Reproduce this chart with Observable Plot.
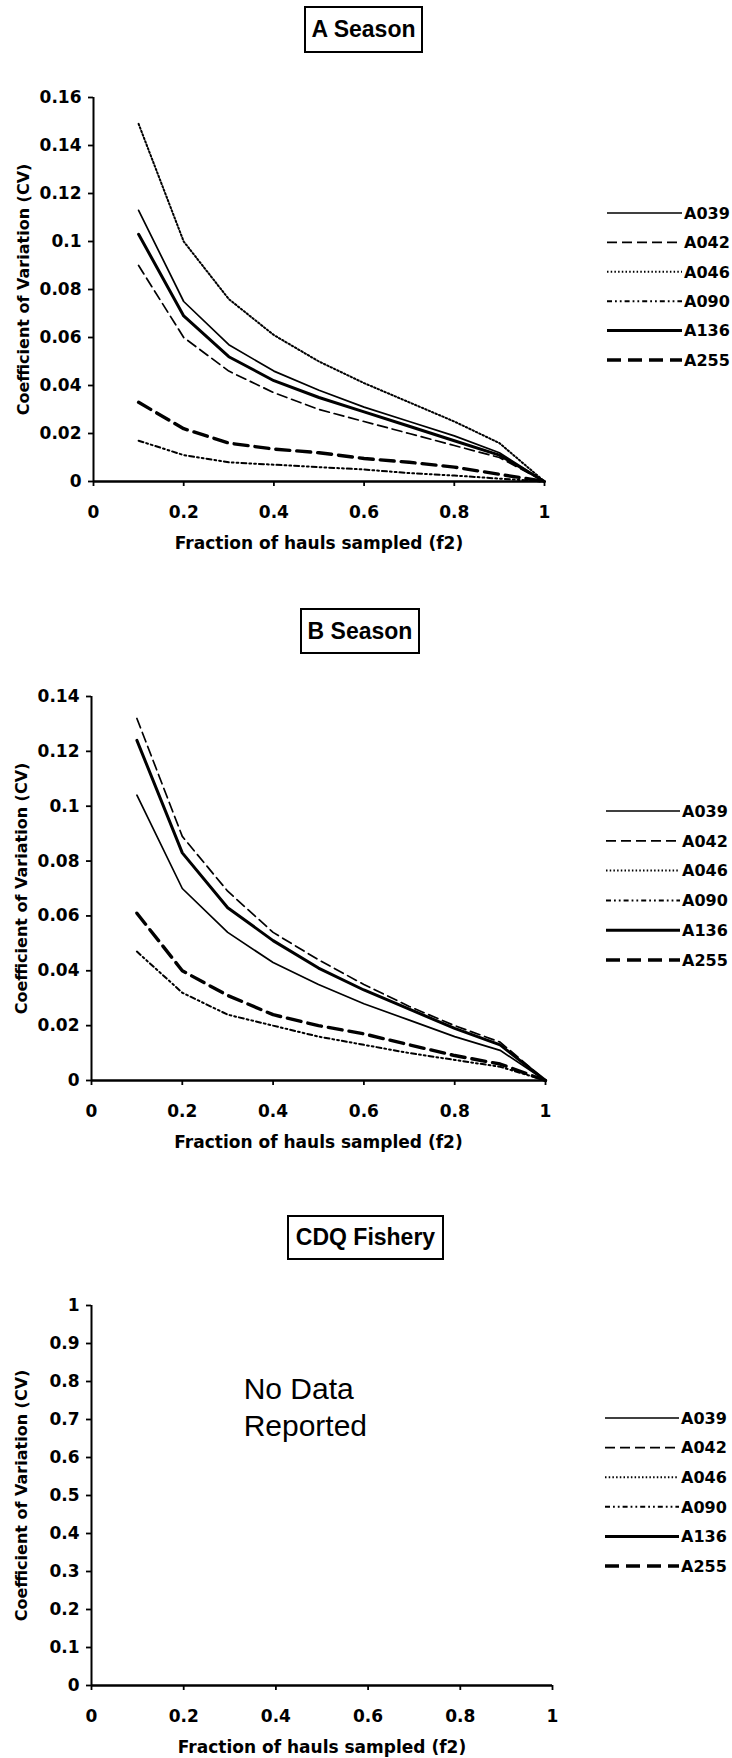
<!DOCTYPE html>
<html><head><meta charset="utf-8">
<script src="https://cdn.jsdelivr.net/npm/d3@7"></script>
<script src="https://cdn.jsdelivr.net/npm/@observablehq/plot@0.6"></script>
<style>
body{margin:0;background:#fff;}
#page{position:relative;width:732px;height:1758px;overflow:hidden;background:#fff;}
.title{position:absolute;border:2px solid #000;box-sizing:border-box;font:bold 23px "Liberation Sans",Arial,sans-serif;display:flex;align-items:center;justify-content:center;color:#000;}
.plot{position:absolute;left:0;}
.legend{position:absolute;left:0;overflow:visible;}
</style></head><body><div id="page"></div>
<script>
// ---- data ----
const fractions = [0.1, 0.2, 0.3, 0.4, 0.5, 0.6, 0.7, 0.8, 0.9, 1.0];
const seriesNames = ["A039", "A042", "A046", "A090", "A136", "A255"];

// A Season
const aA039 = [0.113, 0.075, 0.057, 0.046, 0.038, 0.031, 0.025, 0.019, 0.012, 0];
const aA042 = [0.090, 0.060, 0.046, 0.037, 0.030, 0.025, 0.020, 0.015, 0.010, 0];
const aA046 = [0.149, 0.100, 0.076, 0.061, 0.050, 0.041, 0.033, 0.025, 0.016, 0];
const aA090 = [0.017, 0.011, 0.008, 0.007, 0.006, 0.005, 0.0035, 0.0025, 0.0012, 0];
const aA136 = [0.103, 0.069, 0.052, 0.042, 0.035, 0.029, 0.023, 0.017, 0.011, 0];
const aA255 = [0.033, 0.022, 0.016, 0.0135, 0.012, 0.0096, 0.008, 0.006, 0.003, 0];

// B Season (A046 not plotted)
const bA039 = [0.104, 0.070, 0.054, 0.043, 0.035, 0.028, 0.022, 0.016, 0.011, 0];
const bA042 = [0.132, 0.089, 0.069, 0.054, 0.044, 0.035, 0.027, 0.020, 0.014, 0];
const bA090 = [0.047, 0.032, 0.024, 0.020, 0.016, 0.013, 0.010, 0.0075, 0.005, 0];
const bA136 = [0.124, 0.083, 0.063, 0.051, 0.041, 0.033, 0.026, 0.019, 0.013, 0];
const bA255 = [0.061, 0.040, 0.031, 0.024, 0.020, 0.017, 0.013, 0.0091, 0.006, 0];

// CDQ Fishery: no data reported
const noteText = "No Data\nReported";
const notePos = {f: 0.33, cv: 0.737};

// tick labels
const xTicks = [0, 0.2, 0.4, 0.6, 0.8, 1];
const yTicksA = [0, 0.02, 0.04, 0.06, 0.08, 0.1, 0.12, 0.14, 0.16];
const yTicksB = [0, 0.02, 0.04, 0.06, 0.08, 0.1, 0.12, 0.14];
const yTicksC = [0, 0.1, 0.2, 0.3, 0.4, 0.5, 0.6, 0.7, 0.8, 0.9, 1];

const titles = ["A Season", "B Season", "CDQ Fishery"];
const xLabel = "Fraction of hauls sampled (f2)";
const yLabel = "Coefficient of Variation (CV)";

// ---- styles ----
const lineStyles = {
  A039: {strokeWidth: 1.7},
  A042: {strokeWidth: 1.7, strokeDasharray: "10,5"},
  A046: {strokeWidth: 2, strokeDasharray: "1.5,2.2"},
  A090: {strokeWidth: 2, strokeDasharray: "5,3,1.8,3,1.8,3"},
  A136: {strokeWidth: 3},
  A255: {strokeWidth: 3.4, strokeDasharray: "14,7"}
};

const fmt = d3.format("~g");
const page = document.getElementById("page");

function rows(values) {
  return fractions.map((f, i) => ({f, cv: values[i]}));
}

function panel(cfg) {
  const marks = [
    Plot.ruleX([0], {stroke: "#000", strokeWidth: 2}),
    Plot.ruleY([0], {stroke: "#000", strokeWidth: 2.5}),
    Plot.axisX({ticks: xTicks, tickFormat: fmt, tickSize: 5, tickPadding: 19, strokeWidth: 1.8, label: null}),
    Plot.axisY({ticks: cfg.yTicks, tickFormat: fmt, tickSize: 5, tickPadding: 7, strokeWidth: 1.8, label: null}),
    Plot.text([xLabel], {text: d => d, frameAnchor: "bottom", lineAnchor: "middle", dy: 62, fontSize: 17}),
    Plot.text([yLabel], {text: d => d, frameAnchor: "left", textAnchor: "middle", lineAnchor: "middle", dx: -70, rotate: -90, fontSize: 16})
  ];
  for (const [name, vals] of cfg.series) {
    marks.push(Plot.line(rows(vals), {x: "f", y: "cv", stroke: "#000", ...lineStyles[name]}));
  }
  if (cfg.note) {
    marks.push(Plot.text([notePos], {x: "f", y: "cv", text: () => noteText, textAnchor: "start",
      lineHeight: 1.25, fontSize: 30, fontWeight: "normal", fontFamily: "Liberation Sans, Arial, sans-serif"}));
  }
  const svg = Plot.plot({
    width: 732, height: cfg.height,
    marginTop: cfg.mt, marginBottom: cfg.height - cfg.mt - cfg.frameH,
    marginLeft: cfg.ml, marginRight: 732 - cfg.xr,
    x: {domain: [0, 1]},
    y: {domain: cfg.yDomain},
    style: {fontFamily: "DejaVu Sans, sans-serif", fontSize: "17px", fontWeight: "bold", color: "#000", background: "transparent", overflow: "visible"},
    marks
  });
  svg.classList.add("plot");
  svg.style.top = cfg.top + "px";
  page.appendChild(svg);

  // title box
  const t = document.createElement("div");
  t.className = "title";
  t.textContent = cfg.title;
  Object.assign(t.style, {left: cfg.box[0] + "px", top: cfg.box[1] + "px", width: cfg.box[2] + "px", height: cfg.box[3] + "px"});
  page.appendChild(t);

  // legend
  const lg = d3.create("svg").attr("class", "legend").attr("width", 732).attr("height", 220)
    .style("top", cfg.leg.y0 - 20 + "px");
  seriesNames.forEach((name, i) => {
    const y = 20 + i * cfg.leg.step;
    const st = lineStyles[name];
    lg.append("line").attr("x1", cfg.leg.x1).attr("x2", cfg.leg.x2).attr("y1", y).attr("y2", y)
      .attr("stroke", "#000").attr("stroke-width", st.strokeWidth)
      .attr("stroke-dasharray", st.strokeDasharray || null);
    lg.append("text").attr("x", cfg.leg.x2 + 2).attr("y", y).attr("dy", "0.36em")
      .attr("font-family", "DejaVu Sans, sans-serif").attr("font-weight", "bold").attr("font-size", 16)
      .text(name);
  });
  page.appendChild(lg.node());
}

panel({
  title: titles[0], box: [304, 6, 119, 47],
  top: 60, height: 496, mt: 37, frameH: 384, ml: 93, xr: 544,
  yDomain: [0, 0.16], yTicks: yTicksA,
  series: [["A039", aA039], ["A042", aA042], ["A046", aA046], ["A090", aA090], ["A136", aA136], ["A255", aA255]],
  leg: {x1: 607, x2: 682, y0: 212.5, step: 29.4}
});
panel({
  title: titles[1], box: [300, 608, 120, 46],
  top: 659, height: 496, mt: 37, frameH: 384, ml: 91, xr: 545,
  yDomain: [0, 0.14], yTicks: yTicksB,
  series: [["A039", bA039], ["A042", bA042], ["A090", bA090], ["A136", bA136], ["A255", bA255]],
  leg: {x1: 606, x2: 680, y0: 811, step: 29.8}
});
panel({
  title: titles[2], box: [287, 1215, 157, 45],
  top: 1268, height: 490, mt: 37, frameH: 380, ml: 91, xr: 552,
  yDomain: [0, 1], yTicks: yTicksC,
  series: [], note: true,
  leg: {x1: 605, x2: 679, y0: 1418, step: 29.6}
});
</script></body></html>
